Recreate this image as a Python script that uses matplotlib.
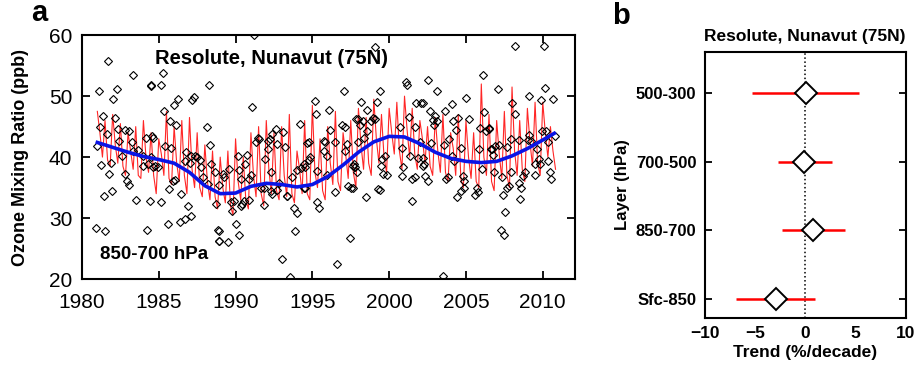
import matplotlib
matplotlib.use("Agg")
import matplotlib.pyplot as plt
import numpy as np

plt.rcParams["font.family"] = ["Liberation Sans", "DejaVu Sans"]

# --- panel a: observed ozone (diamonds), model (red), smooth fit (blue) ---
obs_year = [
    1981.69, 1983.35, 1981.08, 1982.27, 1982.00, 1984.50, 1981.34, 1982.16, 1981.19, 1982.34,
    1982.77, 1983.07, 1981.62, 1982.42, 1983.25, 1984.16, 1984.55, 1980.97, 1983.35, 1983.68,
    1982.60, 1984.00, 1984.33, 1984.65, 1984.00, 1981.90, 1981.26, 1982.81, 1981.77, 1982.92,
    1983.07, 1981.95, 1981.41, 1983.50, 1984.44, 1980.91, 1981.52, 1984.26,
    1985.28, 1984.52, 1985.13, 1988.27, 1986.26, 1985.97, 1987.27, 1987.19, 1985.35, 1985.76,
    1986.15, 1984.63, 1988.14, 1988.31, 1985.39, 1985.82, 1986.75, 1987.12, 1987.34, 1987.51,
    1987.66, 1986.69, 1984.48, 1984.74, 1984.96, 1987.01, 1987.77, 1988.42, 1988.64, 1985.93,
    1986.04, 1985.67, 1987.88, 1986.47, 1988.20, 1985.17, 1986.90, 1988.74, 1987.12, 1986.69,
    1985.61, 1986.41, 1988.85, 1988.90,
    1991.21, 1991.10, 1991.43, 1991.54, 1991.32, 1992.08, 1992.25, 1992.34, 1992.62, 1993.12,
    1992.73, 1992.08, 1990.73, 1990.13, 1991.90, 1990.60, 1989.15, 1989.59, 1989.26, 1988.94,
    1990.24, 1990.99, 1990.89, 1990.35, 1992.29, 1991.86, 1992.29, 1992.40, 1992.83, 1992.73,
    1993.33, 1991.64, 1989.70, 1989.91, 1990.56, 1990.45, 1990.89, 1991.86, 1990.35, 1989.74,
    1990.02, 1988.94, 1990.24, 1988.94, 1989.48, 1993.00,
    1997.03, 1995.15, 1996.06, 1995.24, 1994.22, 1997.84, 1996.93, 1997.14, 1996.13, 1994.65,
    1994.81, 1995.74, 1995.84, 1997.25, 1993.25, 1996.45, 1995.74, 1995.95, 1997.14, 1994.87,
    1994.76, 1994.44, 1994.29, 1994.00, 1994.55, 1995.30, 1997.68, 1997.79, 1993.68, 1995.95,
    1994.44, 1994.55, 1997.32, 1997.53, 1996.49, 1993.36, 1995.30, 1995.41, 1993.79, 1994.00,
    1993.90, 1997.47, 1996.60, 1993.57,
    1999.07, 2001.12, 2001.17, 1999.43, 1998.14, 1999.18, 1998.53, 2001.77, 2002.10, 1997.98,
    1998.27, 1998.85, 1999.07, 1998.92, 1998.09, 1998.57, 2001.66, 2000.69, 2001.30, 1998.37,
    1997.98, 2001.99, 2000.81, 2001.38, 2001.88, 1999.74, 1999.56, 1997.66, 1997.88, 1999.50,
    1999.61, 1999.87, 2000.91, 2000.86, 2001.66, 2001.51, 2002.20, 1999.28, 1999.39, 1998.48,
    2001.51, 1997.66,
    2006.08, 2002.51, 2003.10, 2005.00, 2002.19, 2004.09, 2002.68, 2003.66, 2006.19, 2003.00,
    2002.84, 2003.12, 2004.50, 2005.17, 2004.13, 2002.90, 2004.35, 2005.93, 2006.51, 2006.30,
    2003.92, 2002.73, 2003.59, 2004.68, 2005.87, 2006.62, 2004.09, 2002.19, 2002.29, 2004.24,
    2006.04, 2002.34, 2004.78, 2002.55, 2003.81, 2003.70, 2004.85, 2004.89, 2004.68, 2004.42,
    2005.71, 2005.76, 2005.58, 2003.53,
    2008.18, 2010.06, 2007.10, 2010.13, 2009.09, 2008.01, 2009.91, 2010.65, 2008.18, 2006.49,
    2009.95, 2010.21, 2010.78, 2007.96, 2008.44, 2009.03, 2009.13, 2009.26, 2010.34, 2007.14,
    2007.68, 2006.92, 2006.71, 2006.75, 2009.63, 2009.74, 2009.85, 2009.52, 2010.34, 2006.81,
    2007.96, 2008.83, 2008.70, 2009.48, 2007.36, 2010.49, 2010.56, 2008.48, 2008.61, 2007.83,
    2007.68, 2007.40, 2008.55, 2007.57, 2007.25, 2007.46,
]
obs_ozone = [
    55.8, 53.5, 50.9, 51.1, 49.5, 51.6, 46.7, 46.4, 44.9, 44.6,
    44.5, 44.2, 43.8, 42.7, 42.4, 43.1, 43.4, 41.9, 41.0, 41.2,
    40.1, 40.2, 38.8, 38.3, 38.6, 39.0, 38.7, 37.3, 37.3, 36.1,
    35.5, 34.5, 33.6, 32.9, 32.8, 28.4, 27.9, 28.0,
    53.8, 51.8, 51.9, 51.9, 49.6, 48.6, 49.8, 49.3, 47.6, 45.9,
    45.3, 43.2, 44.9, 42.0, 41.9, 41.5, 40.9, 40.1, 40.2, 40.0,
    39.5, 39.4, 40.0, 38.6, 38.3, 39.1, 38.3, 38.8, 37.5, 36.1,
    36.3, 34.7, 36.7, 33.9, 35.6, 32.7, 32.0, 32.3, 30.3, 29.8,
    29.1, 29.4, 28.0, 26.2,
    60.0, 48.2, 43.2, 43.0, 42.5, 42.7, 43.0, 43.8, 44.6, 44.1,
    42.2, 41.3, 40.4, 40.1, 39.7, 38.8, 37.3, 38.0, 36.7, 35.4,
    37.9, 37.1, 36.4, 36.4, 37.5, 34.9, 34.5, 33.9, 35.7, 34.6,
    33.6, 35.0, 32.7, 32.8, 32.8, 32.3, 32.9, 32.2, 32.0, 31.1,
    29.0, 27.9, 27.2, 26.2, 26.1, 23.3,
    50.9, 49.2, 47.8, 47.1, 45.5, 46.3, 45.3, 44.9, 44.5, 42.3,
    42.4, 42.7, 42.5, 42.1, 41.6, 42.4, 41.0, 40.2, 41.0, 40.0,
    39.5, 38.8, 38.2, 37.9, 38.4, 37.8, 38.8, 38.3, 36.8, 37.1,
    35.0, 35.0, 35.3, 35.0, 34.3, 33.6, 32.7, 31.7, 31.7, 30.9,
    27.8, 26.8, 22.5, 20.3,
    58.0, 52.3, 51.8, 50.8, 49.0, 49.0, 47.8, 48.8, 48.8, 46.3,
    46.0, 45.9, 46.3, 46.4, 45.2, 44.3, 45.0, 45.0, 46.6, 43.2,
    42.4, 42.4, 41.5, 40.2, 39.9, 40.2, 39.7, 38.6, 37.5, 38.6,
    37.2, 37.1, 38.3, 36.9, 36.7, 36.4, 38.6, 34.7, 34.6, 33.4,
    32.8, 35.0,
    53.4, 52.7, 50.9, 49.7, 48.8, 48.7, 47.6, 47.6, 47.4, 46.8,
    46.1, 46.0, 46.4, 46.3, 45.9, 45.3, 44.5, 44.8, 44.8, 44.2,
    43.0, 42.3, 42.0, 41.5, 41.3, 41.3, 40.2, 39.9, 38.9, 39.4,
    38.0, 36.9, 36.9, 36.1, 36.7, 36.4, 36.1, 35.0, 34.5, 33.4,
    35.0, 34.3, 33.7, 20.5,
    58.2, 58.2, 51.2, 51.4, 50.1, 48.8, 49.3, 49.5, 47.0, 44.6,
    44.3, 44.3, 43.5, 43.0, 42.8, 42.8, 43.7, 42.7, 42.4, 42.0,
    41.7, 41.9, 41.3, 40.4, 41.3, 39.7, 38.8, 38.9, 39.4, 37.6,
    37.6, 37.5, 36.9, 37.1, 36.8, 37.5, 36.4, 35.7, 35.0, 35.3,
    35.0, 33.8, 33.2, 31.0, 28.0, 27.2,
]

# red curve, six values per year (1981 .. 2010)
model_ozone = [
    47.5, 44.0, 40.0, 46.0, 39.5, 38.5,
    47.0, 42.0, 39.0, 45.5, 38.5, 37.0,
    44.0, 41.0, 38.0, 45.0, 37.0, 36.5,
    46.0, 40.0, 37.5, 44.0, 37.0, 34.0,
    43.0, 40.5, 37.0, 47.5, 36.5, 35.5,
    45.0, 39.0, 36.0, 46.0, 37.0, 34.0,
    46.5, 38.0, 35.0, 44.0, 35.0, 33.5,
    42.0, 36.0, 33.0, 41.0, 33.5, 31.5,
    40.0, 35.0, 32.5, 41.0, 32.0, 30.5,
    43.0, 36.0, 33.0, 40.0, 33.0, 31.5,
    44.0, 37.0, 33.5, 45.0, 34.0, 32.0,
    46.0, 38.0, 34.0, 44.0, 34.5, 33.0,
    45.0, 37.0, 33.5, 47.0, 34.0, 32.5,
    41.0, 38.0, 34.0, 46.0, 34.0, 33.0,
    48.5, 37.5, 35.0, 43.0, 34.5, 33.0,
    45.0, 39.0, 35.5, 47.5, 36.0, 34.5,
    44.0, 40.5, 36.5, 46.0, 37.5, 35.0,
    48.0, 42.0, 38.0, 46.5, 39.0, 37.0,
    49.5, 43.0, 39.0, 47.0, 40.0, 37.5,
    48.0, 44.0, 40.5, 49.0, 41.0, 38.0,
    50.0, 44.5, 40.0, 48.0, 40.5, 38.0,
    46.0, 43.0, 39.0, 45.0, 38.5, 37.0,
    46.5, 41.0, 37.5, 47.0, 37.5, 36.0,
    44.0, 41.5, 37.0, 47.0, 36.5, 35.0,
    46.0, 40.0, 36.5, 44.0, 36.0, 35.0,
    52.0, 40.0, 37.0, 47.0, 36.0, 34.5,
    46.0, 40.5, 36.5, 47.5, 37.0, 35.0,
    51.5, 41.0, 37.0, 46.0, 38.0, 36.0,
    48.0, 42.5, 38.5, 49.0, 39.0, 37.0,
    49.0, 44.0, 40.0, 45.0, 41.0, 38.0,
]
model_year = 1981 + np.arange(len(model_ozone)) / 6.0

smooth_year = [1981, 1982, 1983, 1984, 1985, 1986, 1987, 1988, 1989, 1990,
               1991, 1992, 1993, 1994, 1995, 1996, 1997, 1998, 1999, 2000,
               2001, 2002, 2003, 2004, 2005, 2006, 2007, 2008, 2009, 2010, 2010.75]
smooth_ozone = [42.4, 41.6, 40.8, 40.1, 39.6, 39.0, 37.5, 35.3, 34.0, 34.1,
                35.2, 35.7, 35.5, 35.1, 35.5, 36.8, 38.7, 40.8, 42.5, 43.4,
                43.3, 42.2, 40.8, 39.8, 39.3, 39.1, 39.3, 40.2, 41.4, 42.8, 43.9]

# --- panel b: trends by layer ---
layers = ["Sfc-850", "850-700", "700-500", "500-300"]
trend = [-2.9, 0.8, -0.1, 0.05]
trend_lo = [-6.9, -2.3, -2.75, -5.25]
trend_hi = [0.95, 3.95, 2.65, 5.35]


def style_axes(ax):
    for s in ax.spines.values():
        s.set_linewidth(1.5)
    ax.tick_params(direction="in", top=True, right=True, width=1.3, length=6,
                   labelsize=15, pad=6)


fig = plt.figure(figsize=(9.2, 3.65), dpi=100)

ax = fig.add_axes([0.0891, 0.2356, 0.5359, 0.668])
ax.plot(model_year, model_ozone, color="red", lw=0.8, alpha=0.85, zorder=2)
ax.plot(obs_year, obs_ozone, ls="none", marker="D", ms=3.9, mfc="none",
        mec="black", mew=0.8, zorder=3)
ax.plot(smooth_year, smooth_ozone, color="#0a14e6", lw=2.6, zorder=4)
ax.set_xlim(1980, 2012.1)
ax.set_ylim(20, 60)
ax.set_xticks([1980, 1985, 1990, 1995, 2000, 2005, 2010])
ax.set_yticks([20, 30, 40, 50, 60])
style_axes(ax)
ax.tick_params(axis="x", pad=10)
ax.tick_params(axis="y", pad=7)
ax.set_ylabel("Ozone Mixing Ratio (ppb)", fontsize=13, fontweight="bold",
              labelpad=14)
ax.text(0.385, 0.906, "Resolute, Nunavut (75N)", transform=ax.transAxes,
        ha="center", va="center", fontsize=14.5, fontweight="bold")
ax.text(0.037, 0.10, "850-700 hPa", transform=ax.transAxes,
        ha="left", va="center", fontsize=13.5, fontweight="bold")
fig.text(0.043, 0.965, "a", fontsize=21, fontweight="bold", ha="center", va="center")

bx = fig.add_axes([0.766, 0.129, 0.2185, 0.7285])
ypos = np.arange(1, len(layers) + 1)
bx.axvline(0, color="black", ls=":", lw=1.1, zorder=1)
bx.hlines(ypos, trend_lo, trend_hi, color="red", lw=1.8, zorder=2)
bx.plot(trend, ypos, ls="none", marker="D", ms=11, mfc="white", mec="black",
        mew=1.4, zorder=3)
bx.set_xlim(-10, 10)
bx.set_ylim(0.72, 4.6)
bx.set_xticks([-10, -5, 0, 5, 10])
bx.set_yticks(ypos)
bx.set_yticklabels(layers)
style_axes(bx)
bx.tick_params(axis="x", length=0, labelsize=12.5)
bx.tick_params(axis="y", labelsize=12, length=5)
for lab in bx.get_xticklabels() + bx.get_yticklabels():
    lab.set_fontweight("bold")
bx.set_xlabel("Trend (%/decade)", fontsize=12.5, fontweight="bold", labelpad=3)
bx.set_ylabel("Layer (hPa)", fontsize=12, fontweight="bold")
bx.set_title("Resolute, Nunavut (75N)", fontsize=12.5, fontweight="bold", pad=8)
fig.text(0.675, 0.955, "b", fontsize=21, fontweight="bold", ha="center", va="center")

fig.savefig("out.png", dpi=100)
